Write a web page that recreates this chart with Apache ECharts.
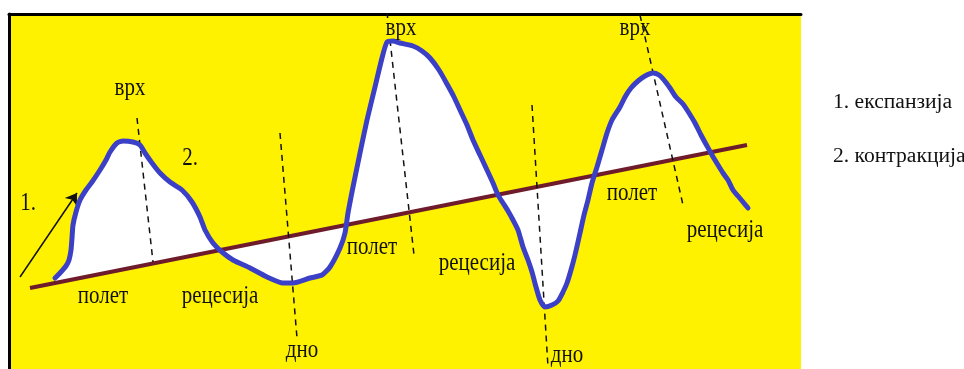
<!DOCTYPE html>
<html>
<head>
<meta charset="utf-8">
<script src="https://cdn.jsdelivr.net/npm/echarts@6/dist/echarts.min.js"></script>
<style>
html,body{margin:0;padding:0;background:#ffffff;}
#chart{width:964px;height:369px;}
</style>
</head>
<body>
<div id="chart"></div>
<script>
// Business cycle curve: [time, activity level]
const cyclePoints = [
  [55,91],[60,96],[66,103],[69,109],[71,119],[72,131],[73,144],[76,157],[80,169],[86,179],
  [92,187],[100,199],[106,209],[110,217],[117,226],[123,228],[133,227],[140,224],[145,216],[152,206],
  [160,196],[170,187],[182,179],[192,167],[200,152],[205,139],[213,126],[222,117],[233,109],[250,101],
  [267,92],[283,86],[293,86],[310,91],[322,94],[330,102],[340,121],[345,136],[348,156],[353,182],
  [360,216],[367,249],[375,282],[382,311],[387,327],[393,328],[400,326],[413,323],[422,318],[430,311],
  [439,299],[447,285],[454,272],[460,259],[467,244],[473,229],[480,214],[487,199],[493,186],[498,174],
  [503,166],[508,158],[513,149],[518,139],[523,122],[528,109],[532,97],[536,82],[540,69],[545,62],
  [552,64],[558,68],[563,77],[567,86],[571,99],[575,114],[580,136],[584,154],[588,169],[592,186],
  [597,202],[602,219],[607,236],[612,249],[620,262],[625,272],[631,281],[638,288],[645,293],[653,296],
  [659,294],[664,289],[670,281],[676,272],[683,265],[689,256],[695,246],[701,234],[707,223],[712,214],
  [718,204],[723,196],[728,189],[733,179],[738,173],[743,167],[748,161]
];
// Long-run trend line
const trendPoints = [[30,81],[747,224]];
// Shaded (white) area between cycle and trend ends here
const fillEndX = 712;
// Dashed turning-point markers [x1,y1,x2,y2]
const turningLines = [
  [137,251,153,107],
  [280,236,297,31],
  [387,357,388,348],
  [390,329,414,114],
  [532,264,548,2],
  [640,354,683,164]
];
// Expansion arrow
const arrowLine = [[20,92],[77,176]];
// Phase labels
const labelTexts = ['врх','2.','1.','полет','рецесија','дно','полет','врх','рецесија','дно','врх','полет','рецесија'];
const labelPos = [[130,281],[190,211],[28,166],[103,73],[220,73],[302,19],[372,122],[401,341],[477,106],[567,14],[635,341],[632,176],[725,139]];
// Legend texts
const legendTexts = ['1. експанзија','2. контракција'];

const chart = echarts.init(document.getElementById('chart'), null, {renderer:'canvas'});

function trendAt(x){
  const a = trendPoints[0], b = trendPoints[1];
  return a[1] + (b[1]-a[1])*(x-a[0])/(b[0]-a[0]);
}

const fillPts = cyclePoints.filter(p => p[0] <= fillEndX);

const option = {
  animation:false,
  backgroundColor:'#ffffff',
  grid:{left:9, top:14, right:163, bottom:0, show:true, backgroundColor:'#FFF200', borderWidth:0},
  xAxis:{type:'value', min:9, max:801, position:'top',
    axisLine:{show:true, onZero:false, lineStyle:{color:'#000', width:3}},
    axisTick:{show:false}, axisLabel:{show:false}, splitLine:{show:false}},
  yAxis:{type:'value', min:0, max:355,
    axisLine:{show:true, onZero:false, lineStyle:{color:'#000', width:3}},
    axisTick:{show:false}, axisLabel:{show:false}, splitLine:{show:false}},
  graphic: legendTexts.map((t,i)=>({
    type:'text', x:833, y: i===0 ? 103 : 157, scaleX:1.08,
    style:{text:t, font:'20px "Liberation Serif"', fill:'#111', verticalAlign:'middle', align:'left'}
  })),
  series:[
    {
      type:'custom', z:1, silent:true,
      data:[[fillPts[0][0], fillPts[0][1]]],
      renderItem:function(params, api){
        const pts = fillPts.map(p => api.coord(p));
        const lastX = fillPts[fillPts.length-1][0];
        pts.push(api.coord([lastX, trendAt(lastX)]));
        pts.push(api.coord([fillPts[0][0], trendAt(fillPts[0][0])]));
        return {type:'polygon', shape:{points:pts}, style:{fill:'#ffffff', stroke:null}};
      }
    },
    {
      type:'line', z:2, data:trendPoints, symbol:'none', silent:true,
      lineStyle:{color:'#6e1c2c', width:4}
    },
    {
      type:'lines', coordinateSystem:'cartesian2d', z:3, silent:true,
      data: turningLines.map(s => ({coords:[[s[0],s[1]],[s[2],s[3]]]})),
      lineStyle:{color:'#111', width:1.5, type:[6,5], opacity:1}
    },
    {
      type:'lines', coordinateSystem:'cartesian2d', z:3, silent:true,
      symbol:['none','arrow'], symbolSize:11,
      data:[{coords:arrowLine}],
      lineStyle:{color:'#111', width:1.5, opacity:1}
    },
    {
      type:'line', z:4, data:cyclePoints, symbol:'none', smooth:0.2, silent:true,
      lineStyle:{color:'#3c40c6', width:5, join:'round', cap:'round'}
    },
    {
      type:'custom', z:5, silent:true,
      data: labelPos,
      renderItem:function(params, api){
        const p = api.coord([api.value(0), api.value(1)]);
        return {type:'text', x:p[0], y:p[1], scaleY:1.2,
          style:{text:labelTexts[params.dataIndex], font:'21px "Liberation Serif"', fill:'#111', align:'center', verticalAlign:'middle'}};
      }
    }
  ]
};
chart.setOption(option);
</script>
</body>
</html>
